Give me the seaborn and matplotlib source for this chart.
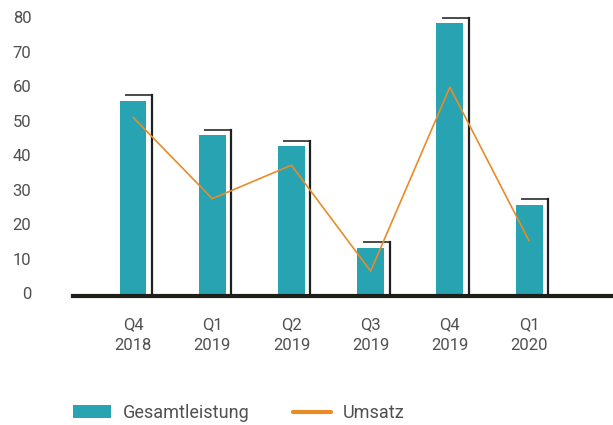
import matplotlib
matplotlib.use("Agg")
import matplotlib.pyplot as plt
import matplotlib.transforms as mtrans
from matplotlib.patches import Patch
from matplotlib.lines import Line2D
import seaborn as sns

quarters = ["Q4\n2018", "Q1\n2019", "Q2\n2019", "Q3\n2019", "Q4\n2019", "Q1\n2020"]
gesamtleistung = [56.6, 46.6, 43.4, 14.0, 79.1, 26.5]
umsatz = [51.8, 28.2, 37.9, 7.2, 60.5, 16.0]
y_ticks = [0, 10, 20, 30, 40, 50, 60, 70, 80]

teal = "#27a3b1"
orange = "#e98b27"
grey = "#505050"

sns.set_style("white")
plt.rcParams["font.family"] = ["Roboto", "DejaVu Sans"]

fig = plt.figure(figsize=(6.13, 4.25), dpi=100)
# axes placed in pixels: left 73, bottom at y=296, 82 units tall at ~3.45 px/unit
ax = fig.add_axes([73 / 613, 129 / 425, 540 / 613, 283 / 425])

sns.barplot(x=quarters, y=gesamtleistung, color=teal, saturation=1, width=0.34,
            linewidth=0, ax=ax)
sns.lineplot(x=list(range(len(quarters))), y=umsatz, color=orange, linewidth=1.2, ax=ax, sort=False)

ax.set_xlim(-0.758, 6.06)
ax.set_ylim(0, 82)

# offset "shadow" brackets on top and right of each bar
dx, dy = 5.5 / 79.2, 5.5 / 3.45
for p in ax.patches:
    x0, w, h = p.get_x(), p.get_width(), p.get_height()
    ax.add_line(Line2D([x0 + dx, x0 + w + dx], [h + dy, h + dy],
                       color="#4a4a4a", linewidth=1.4, solid_capstyle="butt", zorder=1))
    ax.add_line(Line2D([x0 + w + dx, x0 + w + dx], [h + dy, 0],
                       color="#202020", linewidth=1.6, solid_capstyle="projecting", zorder=1))
for p in ax.patches:
    p.set_zorder(2)

for s in ["top", "right", "left"]:
    ax.spines[s].set_visible(False)
ax.spines["bottom"].set_color("#1e1e1b")
ax.spines["bottom"].set_linewidth(3)
ax.spines["bottom"].set_zorder(5)

ax.set_yticks(y_ticks)
ax.tick_params(axis="y", length=0, pad=30, labelsize=12, labelcolor=grey)
ax.tick_params(axis="x", length=0, pad=15, labelsize=12, labelcolor=grey)
for lab in ax.get_xticklabels():
    lab.set_linespacing(1.5)
shift = mtrans.ScaledTranslation(0, 2 / 72, fig.dpi_scale_trans)
for lab in ax.get_yticklabels():
    lab.set_transform(lab.get_transform() + shift)
ax.set_xlabel("")
ax.set_ylabel("")

handles = [Patch(facecolor=teal, edgecolor="none"), Line2D([], [], color=orange, linewidth=3)]
leg = fig.legend(handles, ["Gesamtleistung", "Umsatz"], loc="center left",
                 bbox_to_anchor=(73 / 613, 1 - 413 / 425), ncol=2, frameon=False,
                 fontsize=13, handlelength=2.1, handleheight=0.75, handletextpad=0.65,
                 columnspacing=2.4, borderpad=0, borderaxespad=0)
for t in leg.get_texts():
    t.set_color(grey)

fig.savefig("out.png", dpi=100)
